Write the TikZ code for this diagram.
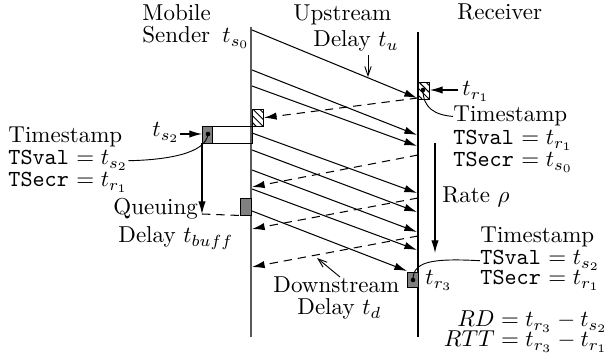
\documentclass[tikz,border=0pt]{standalone}
\usepackage{amsmath,amssymb}
\usepackage{tikz}
\usetikzlibrary{arrows.meta, patterns, calc}

\tikzset{
  pkt/.style={-{Latex[length=5.5pt,width=3.2pt]}, line width=0.45pt},
  ack/.style={pkt, dash pattern=on 3.6pt off 2.6pt},
  hint/.style={-{Straight Barb[length=4pt,width=2.8pt]}, line width=0.4pt},
  lbl/.style={inner sep=0pt, anchor=base west},
  box/.style={draw, inner sep=0pt, line width=0.4pt, minimum width=4.8pt, minimum height=7.2pt, anchor=north west},
  grey/.style={box, fill=black!50},
  hatch/.style={box, pattern=north west lines},
}

\begin{document}
\begin{tikzpicture}[x=0.4348pt, y=-0.4348pt]
  \useasboundingbox (0,0) rectangle (610,360);

  % sender and receiver time lines
  \coordinate (sndtop) at (251,27);
  \coordinate (sndbot) at (251,337);
  \coordinate (rcvtop) at (418,32);
  \coordinate (rcvbot) at (418,337);
  \draw[black!65, line width=0.7pt] (sndtop) -- (sndbot);
  \draw[line width=0.45pt] (rcvtop) -- (rcvbot);

  % headings
  \node[lbl] (mobile) at (142,21) {Mobile};
  \node[lbl] (sender) at (142,43) {Sender};
  \node[lbl] (ts0) at (222,43) {$t_{s_0}$};
  \node[lbl] (up) at (293,21) {Upstream};
  \node[lbl] (updly) at (313,47) {Delay $t_u$};
  \node[lbl] (receiver) at (457,20) {Receiver};

  % timestamp boxes
  \node[box, minimum width=21.7pt] (sstamp) at (202,126) {};
  \node[grey, minimum width=4.35pt] (sgrey) at (202,126) {};
  \node[hatch] (shatch) at (252,109) {};
  \node[hatch] (rhatch) at (418,82) {};
  \node[grey] (qbox) at (240,198) {};
  \node[grey, minimum height=6.6pt] (rgrey) at (407,272) {};
  \coordinate (sdot) at (208,134);
  \coordinate (rdot) at (423,90);
  \coordinate (r3dot) at (413,280);
  \fill (sdot) circle (1pt);
  \fill (rdot) circle (1pt);
  \fill (r3dot) circle (1pt);

  % data packets, sender to receiver
  \foreach \i/\a/\b in {1/30/98, 2/70/135, 3/86/146, 4/133/193, 5/150/212, 6/170/232, 7/189/250, 8/211/270}{
    \coordinate (s\i) at (252,\a);
    \coordinate (r\i) at (417,\b);
  }
  \coordinate (r8) at (407,271);
  \foreach \i in {1,...,8}
    \draw[pkt] (s\i) -- (r\i);

  % acks, receiver to sender
  \foreach \i/\a/\b in {1/98/118, 2/155/187, 3/198/229, 4/236/267}{
    \coordinate (ra\i) at (418,\a);
    \coordinate (sa\i) at (252,\b);
  }
  \coordinate (sa1) at (shatch.east);
  \foreach \i in {1,...,4}
    \draw[ack] (ra\i) -- (sa\i);

  % left side labels
  \node[lbl] (ts2) at (152,137) {$t_{s_2}$};
  \draw[pkt] (ts2.east |- sdot) -- (sgrey.west |- sdot);
  \node[lbl] (lstamp) at (8,143) {Timestamp};
  \node[lbl] (lval) at (8,165) {\texttt{TSval} $= t_{s_2}$};
  \node[lbl] (lecr) at (8,187) {\texttt{TSecr} $= t_{r_1}$};
  \draw[line width=0.4pt] (sdot) .. controls (206,154) and (165,160) .. (lval.east);

  % queuing delay
  \coordinate (qtip) at (202,214);
  \draw[pkt] (sgrey.south west) -- (qtip);
  \draw[dash pattern=on 3.6pt off 2.6pt, line width=0.45pt] (qtip) -- (qbox.south west);
  \node[lbl] (queuing) at (113,215) {Queuing};
  \node[lbl] (qdelay) at (118,243) {Delay $t_{buff}$};

  % upstream / downstream hints
  \draw[hint] (368,55) -- (368,77);
  \node[lbl] (down) at (273,293) {Downstream};
  \node[lbl] (ddelay) at (297,315) {Delay $t_d$};
  \draw[hint] (340,277) -- (317,258);

  % receiver labels
  \node[lbl] (tr1) at (462,96) {$t_{r_1}$};
  \draw[pkt] ($(tr1.west |- rdot)+(-4,0)$) -- (rhatch.east |- rdot);
  \node[lbl] (rstamp1) at (453,122) {Timestamp};
  \node[lbl] (rval1) at (453,145) {\texttt{TSval} $= t_{r_1}$};
  \node[lbl] (recr1) at (453,167) {\texttt{TSecr} $= t_{s_0}$};
  \draw[line width=0.4pt] (rdot) .. controls (423,108) and (435,115) .. (rstamp1.west);

  \coordinate (ratetop) at (435,143);
  \coordinate (ratebot) at (435,253);
  \draw[pkt] (ratetop) -- (ratebot);
  \node[lbl] (rate) at (442,203) {Rate $\rho$};

  \node[lbl] (tr3) at (425,285) {$t_{r_3}$};
  \node[lbl] (rstamp2) at (480,243) {Timestamp};
  \node[lbl] (rval2) at (480,265) {\texttt{TSval} $= t_{s_2}$};
  \node[lbl] (recr2) at (480,285) {\texttt{TSecr} $= t_{r_1}$};
  \draw[line width=0.4pt] (r3dot) .. controls (413,262) and (430,258) .. (rval2.west);

  \node[inner sep=0pt, anchor=base east] (rd) at (608,327) {$RD = t_{r_3} - t_{s_2}$};
  \node[inner sep=0pt, anchor=base east] (rtt) at (608,347) {$RTT = t_{r_3} - t_{r_1}$};
\end{tikzpicture}
\end{document}
